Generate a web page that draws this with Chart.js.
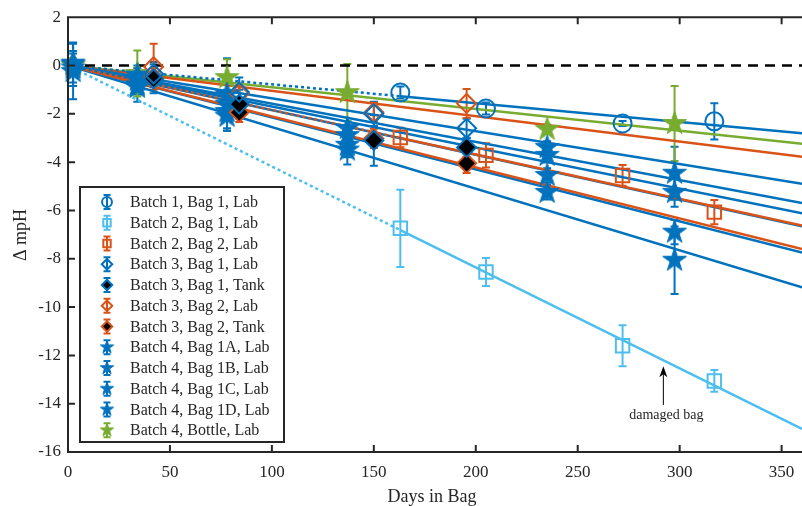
<!DOCTYPE html>
<html>
<head>
<meta charset="utf-8">
<script src="https://cdn.jsdelivr.net/npm/chart.js@4.4.1/dist/chart.umd.min.js"></script>
<style>
  html, body { margin: 0; padding: 0; background: #fff; }
</style>
</head>
<body>
<canvas id="phChart" width="802" height="506"></canvas>
<script>
const FONT = "'Liberation Serif', 'Times New Roman', serif";
const INK = '#262626';
const BLUE = '#0072BD', LIGHT = '#4DBEEE', ORANGE = '#D95319', GREEN = '#77AC30';

const seriesLabels = [
  'Batch 1, Bag 1, Lab', 'Batch 2, Bag 1, Lab', 'Batch 2, Bag 2, Lab',
  'Batch 3, Bag 1, Lab', 'Batch 3, Bag 1, Tank', 'Batch 3, Bag 2, Lab', 'Batch 3, Bag 2, Tank',
  'Batch 4, Bag 1A, Lab', 'Batch 4, Bag 1B, Lab', 'Batch 4, Bag 1C, Lab', 'Batch 4, Bag 1D, Lab',
  'Batch 4, Bottle, Lab'
];
const seriesColors = [BLUE, LIGHT, ORANGE, BLUE, BLUE, ORANGE, ORANGE, BLUE, BLUE, BLUE, BLUE, GREEN];
const seriesMarkers = ['circle', 'square', 'square', 'diamond', 'tank', 'diamond', 'tank',
  'star', 'star', 'star', 'star', 'star'];

// sampling days
const daysBatch12 = [163, 205, 272, 317];
const daysBatch3 = [42, 84, 150, 195.5];
const daysBatch4 = [2.5, 34, 78, 137, 235, 297.5];

// change in mpH and error half-widths
const b1Bag1Lab = [-1.12, -1.78, -2.40, -2.31];
const b1Bag1LabErr = [0.25, 0.25, 0.1, 0.75];
const b2Bag1Lab = [-6.74, -8.55, -11.6, -13.06];
const b2Bag1LabErr = [1.6, 0.58, 0.85, 0.45];
const b2Bag2Lab = [-2.98, -3.72, -4.55, -6.07];
const b2Bag2LabErr = [0.4, 0.5, 0.43, 0.5];
const b3Bag1Lab = [-0.35, -1.1, -2.0, -2.6];
const b3Bag1LabErr = [0.5, 0.6, 0.5, 0.4];
const b3Bag1Tank = [-0.55, -1.6, -3.1, -3.39];
const b3Bag1TankErr = [0.6, 0.6, 1.05, 0.4];
const b3Bag2Lab = [-0.05, -1.16, -1.94, -1.57];
const b3Bag2LabErr = [0.95, 0.4, 0.4, 0.6];
const b3Bag2Tank = [-0.5, -1.94, -3.02, -4.05];
const b3Bag2TankErr = [0.4, 0.4, 0.4, 0.4];
const b4Bag1A = [0.05, -0.4, -1.2, -2.6, -3.39, -4.46];
const b4Bag1AErr = [0.9, 0.4, 1.5, 0.3, 0.25, 1.1];
const b4Bag1B = [-0.25, -0.6, -1.6, -2.9, -3.72, -5.25];
const b4Bag1BErr = [1.15, 0.5, 0.6, 0.4, 0.3, 0.6];
const b4Bag1C = [0.1, -0.8, -1.9, -3.3, -4.55, -6.9];
const b4Bag1CErr = [0.5, 0.4, 0.7, 0.5, 0.3, 0.5];
const b4Bag1D = [-0.1, -0.9, -2.1, -3.5, -5.25, -8.06];
const b4Bag1DErr = [0.6, 0.6, 0.6, 0.6, 0.3, 1.4];
const b4Bottle = [0, -0.33, -0.5, -1.12, -2.64, -2.4];
const b4BottleErr = [0.3, 0.95, 0.76, 1.18, 0.2, 1.55];

// fitted slopes (mpH per day), lines through the origin
const fitSlopes = [-0.0078, -0.0418, -0.0184, -0.0136, -0.0170, -0.0105, -0.0211,
  -0.0158, -0.0185, -0.0215, -0.0255, -0.0090];
// first part of the fit is dotted (no early samples)
const extrapolated = [true, true, true, false, false, false, false, false, false, false, false, false];

const xTicks = [0, 50, 100, 150, 200, 250, 300, 350];
const yTicks = [2, 0, -2, -4, -6, -8, -10, -12, -14, -16];
const X_END = 360;

const seriesDays = [daysBatch12, daysBatch12, daysBatch12, daysBatch3, daysBatch3, daysBatch3, daysBatch3,
  daysBatch4, daysBatch4, daysBatch4, daysBatch4, daysBatch4];
const seriesValues = [b1Bag1Lab, b2Bag1Lab, b2Bag2Lab, b3Bag1Lab, b3Bag1Tank, b3Bag2Lab, b3Bag2Tank,
  b4Bag1A, b4Bag1B, b4Bag1C, b4Bag1D, b4Bottle];
const seriesErrors = [b1Bag1LabErr, b2Bag1LabErr, b2Bag2LabErr, b3Bag1LabErr, b3Bag1TankErr, b3Bag2LabErr,
  b3Bag2TankErr, b4Bag1AErr, b4Bag1BErr, b4Bag1CErr, b4Bag1DErr, b4BottleErr];

const note = { text: 'damaged bag', day: 292, tip: -12.45, tail: -14.05, label: -14.5 };

function starCanvas(color, r) {
  const c = document.createElement('canvas');
  const size = Math.ceil(2 * r + 4);
  c.width = c.height = size;
  const g = c.getContext('2d');
  g.translate(size / 2, size / 2);
  g.beginPath();
  for (let k = 0; k < 10; k++) {
    const rad = k % 2 === 0 ? r : r * 0.382;
    const a = -Math.PI / 2 + k * Math.PI / 5;
    g.lineTo(rad * Math.cos(a), rad * Math.sin(a));
  }
  g.closePath();
  g.fillStyle = color;
  g.fill();
  g.strokeStyle = color;
  g.lineWidth = 1;
  g.stroke();
  return c;
}

function markerStyle(kind, color, small) {
  const k = small ? 0.55 : 1;
  if (kind === 'circle') return { pointStyle: 'circle', radius: 9 * k, fill: 'rgba(0,0,0,0)' };
  if (kind === 'square') return { pointStyle: 'rect', radius: 9.5 * k, fill: 'rgba(0,0,0,0)' };
  if (kind === 'diamond') return { pointStyle: 'rectRot', radius: 9.5 * k, fill: 'rgba(0,0,0,0)' };
  if (kind === 'tank') return { pointStyle: 'rectRot', radius: 9.5 * k, fill: '#000' };
  return { pointStyle: starCanvas(color, small ? 7 : 12.5), radius: 12 * k, fill: color };
}

const markerSets = seriesLabels.map((label, s) => {
  const m = markerStyle(seriesMarkers[s], seriesColors[s], false);
  return {
    type: 'scatter',
    label: label,
    data: seriesDays[s].map((d, i) => ({ x: d, y: seriesValues[s][i] })),
    pointStyle: m.pointStyle,
    pointRadius: m.radius,
    pointHoverRadius: m.radius,
    pointBorderWidth: 2,
    pointBorderColor: seriesColors[s],
    pointBackgroundColor: m.fill,
    showLine: false,
    clip: false
  };
});

const fitLines = fitSlopes.map((slope, s) => {
  const pts = [{ x: 0, y: 0 }];
  if (extrapolated[s]) pts.push({ x: seriesDays[s][0], y: slope * seriesDays[s][0] });
  pts.push({ x: X_END, y: slope * X_END });
  return {
    type: 'line',
    data: pts,
    borderColor: seriesColors[s],
    borderWidth: 2.5,
    pointRadius: 0,
    tension: 0,
    segment: {
      borderDash: ctx => (extrapolated[s] && ctx.p0DataIndex === 0 ? [3, 3] : [])
    }
  };
});

const zeroLine = {
  type: 'line',
  data: [{ x: 0, y: 0 }, { x: X_END, y: 0 }],
  borderColor: '#000',
  borderWidth: 2.5,
  borderDash: [10, 7],
  pointRadius: 0
};

// stretch the plot to the right edge (the original figure is cut there)
const fullWidth = {
  id: 'fullWidth',
  afterLayout(chart) {
    const a = chart.chartArea, xs = chart.scales.x;
    a.right = chart.width;
    a.width = a.right - a.left;
    xs.right = chart.width;
    xs.width = xs.right - xs.left;
    xs.configure();
    xs._labelItems = null;
  }
};

const errorBars = {
  id: 'errorBars',
  beforeDatasetsDraw(chart) {
    const { ctx, scales: { x, y } } = chart;
    ctx.save();
    ctx.lineWidth = 2;
    seriesValues.forEach((vals, s) => {
      ctx.strokeStyle = seriesColors[s];
      vals.forEach((v, i) => {
        const px = x.getPixelForValue(seriesDays[s][i]);
        const e = seriesErrors[s][i];
        const top = y.getPixelForValue(v + e), bot = y.getPixelForValue(v - e);
        ctx.beginPath();
        ctx.moveTo(px, top); ctx.lineTo(px, bot);
        ctx.moveTo(px - 4, top); ctx.lineTo(px + 4, top);
        ctx.moveTo(px - 4, bot); ctx.lineTo(px + 4, bot);
        ctx.stroke();
      });
    });
    ctx.restore();
  }
};

const frame = {
  id: 'frame',
  afterDraw(chart) {
    const { ctx, chartArea: a, scales: { x, y } } = chart;
    ctx.save();
    // axes box with inward ticks
    ctx.strokeStyle = INK;
    ctx.lineWidth = 2;
    ctx.beginPath();
    ctx.moveTo(a.right + 2, a.top); ctx.lineTo(a.left, a.top);
    ctx.lineTo(a.left, a.bottom); ctx.lineTo(a.right + 2, a.bottom);
    xTicks.forEach(v => {
      const px = x.getPixelForValue(v);
      ctx.moveTo(px, a.bottom); ctx.lineTo(px, a.bottom - 7);
      ctx.moveTo(px, a.top); ctx.lineTo(px, a.top + 7);
    });
    yTicks.forEach(v => {
      const py = y.getPixelForValue(v);
      ctx.moveTo(a.left, py); ctx.lineTo(a.left + 7, py);
    });
    ctx.stroke();

    // axis titles
    ctx.fillStyle = INK;
    ctx.font = '18px ' + FONT;
    ctx.textAlign = 'center';
    ctx.textBaseline = 'middle';
    ctx.fillText('Days in Bag', 432, 497);
    ctx.save();
    ctx.translate(21, 235);
    ctx.rotate(-Math.PI / 2);
    ctx.fillText('\u0394 mpH', 0, 0);
    ctx.restore();

    // damaged bag note
    const nx = x.getPixelForValue(note.day);
    const tipY = y.getPixelForValue(note.tip);
    const tailY = y.getPixelForValue(note.tail);
    ctx.strokeStyle = '#000';
    ctx.fillStyle = '#000';
    ctx.lineWidth = 1;
    ctx.beginPath();
    ctx.moveTo(nx, tailY); ctx.lineTo(nx, tipY + 8);
    ctx.stroke();
    ctx.beginPath();
    ctx.moveTo(nx, tipY); ctx.lineTo(nx - 4, tipY + 11); ctx.lineTo(nx, tipY + 8); ctx.lineTo(nx + 4, tipY + 11);
    ctx.closePath();
    ctx.fill();
    ctx.fillStyle = INK;
    ctx.font = '14px ' + FONT;
    ctx.fillText(note.text, nx + 3, y.getPixelForValue(note.label));

    // legend
    const lx = 80, ly = 187, lw = 204, lh = 255, first = 202, step = 20.75;
    ctx.fillStyle = '#fff';
    ctx.fillRect(lx, ly, lw, lh);
    ctx.strokeStyle = INK;
    ctx.lineWidth = 2;
    ctx.strokeRect(lx, ly, lw, lh);
    ctx.font = '16px ' + FONT;
    ctx.textAlign = 'left';
    seriesLabels.forEach((label, s) => {
      const ry = first + s * step, mx = 107;
      const col = seriesColors[s];
      ctx.strokeStyle = col;
      ctx.lineWidth = 2;
      ctx.beginPath();
      ctx.moveTo(mx, ry - 7); ctx.lineTo(mx, ry + 7);
      ctx.moveTo(mx - 3.5, ry - 7); ctx.lineTo(mx + 3.5, ry - 7);
      ctx.moveTo(mx - 3.5, ry + 7); ctx.lineTo(mx + 3.5, ry + 7);
      ctx.stroke();
      const m = markerStyle(seriesMarkers[s], col, true);
      ctx.fillStyle = m.fill;
      Chart.helpers.drawPoint(ctx, { pointStyle: m.pointStyle, radius: m.radius, rotation: 0, borderWidth: 2 }, mx, ry);
      ctx.fillStyle = INK;
      ctx.fillText(label, 130, ry + 1);
    });
    ctx.restore();
  }
};

new Chart(document.getElementById('phChart'), {
  type: 'scatter',
  data: { datasets: [...markerSets, zeroLine, ...fitLines] },
  options: {
    responsive: false,
    animation: false,
    layout: { padding: { top: 16, right: 0, bottom: 0, left: 0 } },
    plugins: { legend: { display: false }, tooltip: { enabled: false } },
    scales: {
      x: {
        type: 'linear', min: 0, max: X_END,
        grid: { display: false, drawTicks: false },
        border: { display: false },
        ticks: { font: { family: FONT, size: 17 }, color: INK, padding: 10, maxRotation: 0 },
        afterBuildTicks: s => { s.ticks = xTicks.map(v => ({ value: v })); },
        afterFit: s => { s.height = 54; }
      },
      y: {
        type: 'linear', min: -16, max: 2,
        grid: { display: false, drawTicks: false },
        border: { display: false },
        ticks: { font: { family: FONT, size: 17 }, color: INK, padding: 7 },
        afterBuildTicks: s => { s.ticks = yTicks.map(v => ({ value: v })); },
        afterFit: s => { s.width = 68; }
      }
    }
  },
  plugins: [fullWidth, errorBars, frame]
});
</script>
</body>
</html>
